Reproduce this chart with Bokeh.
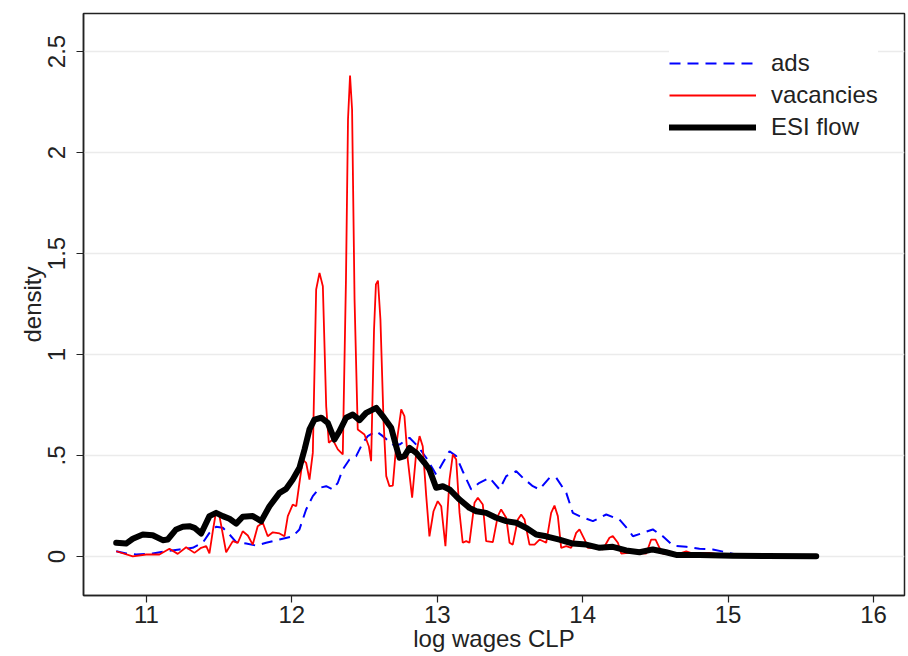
from bokeh.plotting import figure
from bokeh.models import FixedTicker, Range1d, Legend, LegendItem
from bokeh.embed import file_html
from bokeh.resources import INLINE

# ---- data ----
ads_x = [10.792, 10.860, 10.929, 11.043, 11.135, 11.227, 11.318, 11.387, 11.433, 11.479,
         11.525, 11.571, 11.617, 11.686, 11.754, 11.823, 11.915, 12.006, 12.052, 12.098,
         12.144, 12.190, 12.236, 12.281, 12.316, 12.350, 12.396, 12.442, 12.488, 12.522,
         12.580, 12.625, 12.694, 12.740, 12.809, 12.866, 12.924, 12.992, 13.038, 13.084,
         13.130, 13.175, 13.233, 13.290, 13.359, 13.428, 13.474, 13.543, 13.588, 13.657,
         13.703, 13.772, 13.818, 13.887, 13.932, 13.978, 14.070, 14.162, 14.253, 14.322,
         14.345, 14.414, 14.482, 14.551, 14.620, 14.712, 14.803, 14.895, 14.987, 15.055,
         15.147]
ads_y = [0.026, 0.015, 0.010, 0.015, 0.026, 0.035, 0.043, 0.068, 0.117, 0.147,
         0.142, 0.109, 0.071, 0.064, 0.054, 0.068, 0.084, 0.100, 0.134, 0.233,
         0.299, 0.340, 0.348, 0.332, 0.365, 0.431, 0.480, 0.497, 0.563, 0.596,
         0.620, 0.596, 0.554, 0.554, 0.588, 0.546, 0.489, 0.406, 0.464, 0.521,
         0.497, 0.422, 0.332, 0.365, 0.390, 0.332, 0.398, 0.422, 0.390, 0.348,
         0.332, 0.390, 0.390, 0.315, 0.216, 0.200, 0.175, 0.208, 0.183, 0.125,
         0.100, 0.117, 0.134, 0.100, 0.054, 0.048, 0.038, 0.035, 0.021, 0.010,
         0.002]

vac_x = [10.792, 10.906, 10.998, 11.089, 11.158, 11.215, 11.273, 11.330, 11.376, 11.411,
         11.433, 11.456, 11.479, 11.502, 11.548, 11.594, 11.628, 11.662, 11.697, 11.731,
         11.765, 11.800, 11.834, 11.869, 11.915, 11.949, 11.972, 12.006, 12.030, 12.052,
         12.075, 12.098, 12.121, 12.144, 12.167, 12.190, 12.213, 12.236, 12.254, 12.281,
         12.316, 12.350, 12.372, 12.386, 12.400, 12.414, 12.431, 12.453, 12.499, 12.529,
         12.545, 12.565, 12.578, 12.592, 12.609, 12.630, 12.649, 12.671, 12.694, 12.717,
         12.752, 12.774, 12.797, 12.827, 12.855, 12.878, 12.900, 12.924, 12.946, 12.974,
         13.003, 13.027, 13.056, 13.084, 13.107, 13.130, 13.153, 13.175, 13.199, 13.221,
         13.256, 13.279, 13.313, 13.336, 13.382, 13.416, 13.439, 13.474, 13.497, 13.519,
         13.554, 13.577, 13.600, 13.634, 13.669, 13.703, 13.749, 13.783, 13.806, 13.829,
         13.852, 13.887, 13.921, 13.955, 13.978, 14.013, 14.035, 14.093, 14.138, 14.184,
         14.207, 14.242, 14.265, 14.345, 14.437, 14.471, 14.501, 14.528, 14.551, 14.643,
         14.712, 14.758, 14.872, 14.941, 15.032]
vac_y = [0.026, 0.001, 0.010, 0.010, 0.038, 0.013, 0.046, 0.018, 0.043, 0.051,
         0.015, 0.125, 0.224, 0.200, 0.021, 0.076, 0.068, 0.125, 0.104, 0.059,
         0.150, 0.167, 0.100, 0.120, 0.114, 0.100, 0.200, 0.257, 0.249, 0.365,
         0.480, 0.464, 0.381, 0.513, 1.322, 1.404, 1.338, 0.744, 0.563, 0.579,
         0.530, 0.505, 1.371, 2.163, 2.381, 2.213, 1.272, 0.629, 0.604, 0.546,
         0.472, 1.124, 1.347, 1.366, 1.173, 0.678, 0.398, 0.348, 0.351, 0.546,
         0.728, 0.695, 0.480, 0.291, 0.513, 0.596, 0.546, 0.299, 0.100, 0.224,
         0.274, 0.249, 0.051, 0.381, 0.505, 0.480, 0.216, 0.068, 0.076, 0.068,
         0.266, 0.291, 0.257, 0.076, 0.071, 0.200, 0.233, 0.192, 0.068, 0.059,
         0.183, 0.208, 0.183, 0.059, 0.059, 0.084, 0.068, 0.216, 0.252, 0.200,
         0.043, 0.051, 0.043, 0.117, 0.134, 0.084, 0.043, 0.043, 0.035, 0.093,
         0.101, 0.068, 0.015, 0.021, 0.015, 0.084, 0.084, 0.043, 0.015, 0.010,
         0.026, 0.015, 0.018, 0.010, 0.005]

esi_x = [10.792, 10.860, 10.906, 10.975, 11.043, 11.112, 11.146, 11.204, 11.250, 11.296,
         11.330, 11.376, 11.433, 11.479, 11.525, 11.571, 11.617, 11.662, 11.731, 11.789,
         11.846, 11.915, 11.961, 12.006, 12.052, 12.087, 12.121, 12.155, 12.202, 12.247,
         12.293, 12.327, 12.373, 12.419, 12.465, 12.511, 12.580, 12.625, 12.683, 12.717,
         12.740, 12.774, 12.809, 12.855, 12.912, 12.946, 12.992, 13.038, 13.084, 13.153,
         13.221, 13.268, 13.336, 13.405, 13.474, 13.543, 13.611, 13.680, 13.749, 13.840,
         13.932, 14.024, 14.116, 14.207, 14.299, 14.391, 14.482, 14.574, 14.643, 14.803,
         15.032, 15.262, 15.606]
esi_y = [0.068, 0.064, 0.088, 0.109, 0.105, 0.081, 0.084, 0.134, 0.147, 0.150,
         0.142, 0.114, 0.200, 0.216, 0.200, 0.187, 0.163, 0.197, 0.200, 0.175,
         0.249, 0.315, 0.335, 0.381, 0.439, 0.530, 0.629, 0.678, 0.687, 0.662,
         0.579, 0.620, 0.687, 0.703, 0.675, 0.711, 0.736, 0.695, 0.637, 0.546,
         0.489, 0.497, 0.538, 0.513, 0.464, 0.431, 0.340, 0.348, 0.332, 0.282,
         0.241, 0.224, 0.216, 0.192, 0.175, 0.167, 0.142, 0.109, 0.100, 0.084,
         0.064, 0.059, 0.043, 0.048, 0.030, 0.021, 0.035, 0.021, 0.008, 0.008,
         0.004, 0.002, 0.001]

x_ticks = [11, 12, 13, 14, 15, 16]
y_ticks = [0, 0.5, 1, 1.5, 2, 2.5]
y_tick_labels = ["0", ".5", "1", "1.5", "2", "2.5"]

FONT = "Liberation Sans"
FS = "24px"
DARK = "#222222"

p = figure(width=906, height=656,
           x_range=Range1d(10.567, 16.213), y_range=Range1d(-0.193, 2.688),
           output_backend="svg", toolbar_location=None,
           min_border_left=83, min_border_top=13, min_border_right=2, min_border_bottom=61,
           background_fill_color="white", border_fill_color="white")

p.xgrid.visible = False
p.ygrid.ticker = FixedTicker(ticks=y_ticks)
p.ygrid.grid_line_color = "#ebebeb"
p.ygrid.grid_line_width = 1.5

p.outline_line_color = DARK
p.outline_line_width = 1.5

p.xaxis.ticker = FixedTicker(ticks=x_ticks)
p.yaxis.ticker = FixedTicker(ticks=y_ticks)
p.yaxis.major_label_overrides = {t: l for t, l in zip(y_ticks, y_tick_labels)}
p.yaxis.major_label_orientation = "vertical"

for ax in (p.xaxis, p.yaxis):
    ax.axis_line_color = DARK
    ax.axis_line_width = 1.5
    ax.major_tick_line_color = DARK
    ax.major_tick_line_width = 1.2
    ax.major_tick_in = 0
    ax.major_tick_out = 7
    ax.minor_tick_line_color = None
    ax.major_label_text_font = FONT
    ax.major_label_text_font_size = FS
    ax.major_label_text_color = DARK
    ax.axis_label_text_font = FONT
    ax.axis_label_text_font_size = FS
    ax.axis_label_text_font_style = "normal"
    ax.axis_label_text_color = DARK

p.xaxis.major_label_standoff = 3
p.xaxis.axis_label_standoff = -1
p.yaxis.major_label_standoff = 11
p.yaxis.axis_label_standoff = 0

p.xaxis.axis_label = "log wages CLP"
p.yaxis.axis_label = "density"

r_ads = p.line(ads_x, ads_y, line_color="#0000ff", line_width=2, line_dash="11 7")
r_vac = p.line(vac_x, vac_y, line_color="#ff0000", line_width=1.8)
r_esi = p.line(esi_x, esi_y, line_color="black", line_width=6, line_join="round", line_cap="round")

legend = Legend(items=[LegendItem(label="ads", renderers=[r_ads]),
                       LegendItem(label="vacancies", renderers=[r_vac]),
                       LegendItem(label="ESI flow", renderers=[r_esi])],
                location=(586, 452),
                background_fill_color="white", background_fill_alpha=1.0,
                border_line_color=None,
                label_text_font=FONT, label_text_font_size=FS, label_text_color=DARK,
                glyph_width=87, glyph_height=32, label_height=32, spacing=0,
                padding=15, label_standoff=15, margin=0)
p.add_layout(legend, "center")

open("out.html", "w").write(file_html(p, INLINE))
